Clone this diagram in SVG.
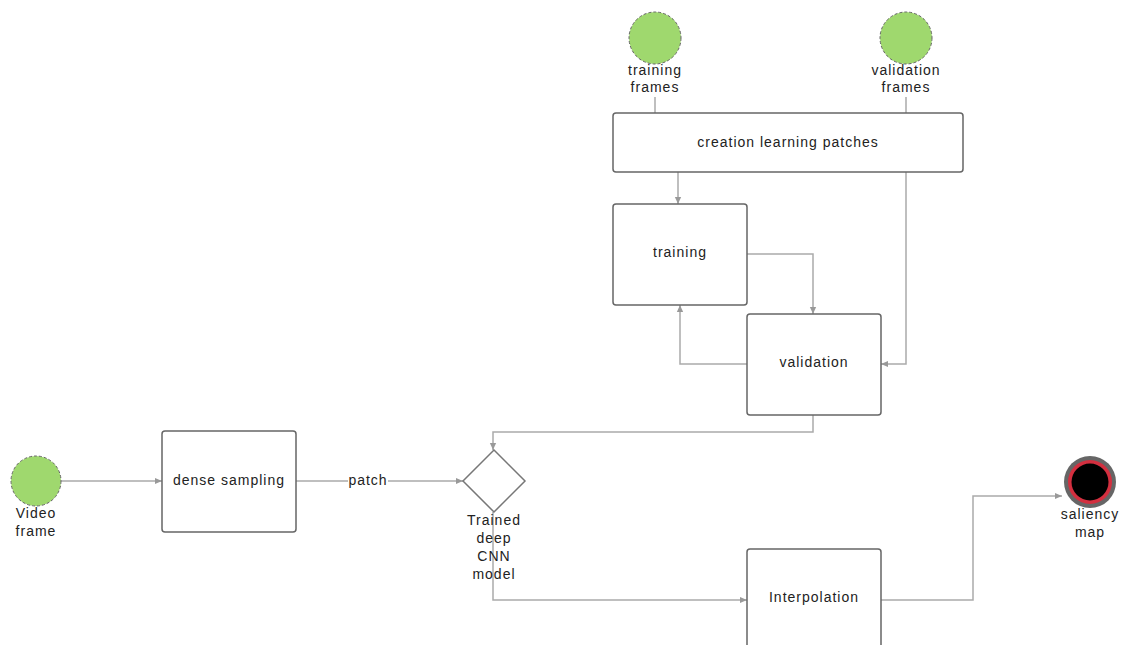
<svg xmlns="http://www.w3.org/2000/svg" width="1121" height="645" viewBox="0 0 1121 645">
<defs>
<marker id="arr" viewBox="0 0 10 10" refX="9" refY="5" markerWidth="8" markerHeight="8" markerUnits="userSpaceOnUse" orient="auto">
<path d="M0,1 L9,5 L0,9 z" fill="#999"/>
</marker>
<style>
.t{font-family:"Liberation Sans",Arial,sans-serif;font-size:14px;letter-spacing:1px;fill:#222;text-anchor:middle}
.box{fill:#fff;stroke:#666;stroke-width:1.5}
.start{fill:#9fd86e;stroke:#666;stroke-width:1;stroke-dasharray:3 2}
.c{fill:none;stroke:#aaa;stroke-width:1.5}
</style>
</defs>
<rect width="1121" height="645" fill="#fff"/>
<g id="connectors">
<path class="c" d="M655,97 V113"/>
<path class="c" d="M906,97 V113"/>
<path class="c" d="M678,172 V204" marker-end="url(#arr)"/>
<path class="c" d="M747,254 H813 V314" marker-end="url(#arr)"/>
<path class="c" d="M747,364 H680 V305" marker-end="url(#arr)"/>
<path class="c" d="M906,172 V364 H881" marker-end="url(#arr)"/>
<path class="c" d="M813,415 V432 H493 V450" marker-end="url(#arr)"/>
<path class="c" d="M61,481 H162" marker-end="url(#arr)"/>
<path class="c" d="M296,481 H463" marker-end="url(#arr)"/>
<rect x="348" y="472" width="40" height="16" fill="#fff"/>
<text class="t" x="368" y="485">patch</text>
<path class="c" d="M493,512 V600 H747" marker-end="url(#arr)"/>
<path class="c" d="M881,600 H973 V496 H1062" marker-end="url(#arr)"/>
</g>
<g id="training-frames">
<circle class="start" cx="655" cy="38" r="26"/>
<text class="t" x="655" y="75">training</text>
<text class="t" x="655" y="92">frames</text>
</g>
<g id="validation-frames">
<circle class="start" cx="906" cy="38" r="26"/>
<text class="t" x="906" y="75">validation</text>
<text class="t" x="906" y="92">frames</text>
</g>
<g id="creation">
<rect class="box" x="613" y="113" width="350" height="59" rx="3"/>
<text class="t" x="788" y="147">creation learning patches</text>
</g>
<g id="training">
<rect class="box" x="613" y="204" width="134" height="101" rx="3"/>
<text class="t" x="680" y="257">training</text>
</g>
<g id="validation">
<rect class="box" x="747" y="314" width="134" height="101" rx="3"/>
<text class="t" x="814" y="367">validation</text>
</g>
<g id="video-frame">
<circle class="start" cx="36" cy="481" r="25"/>
<text class="t" x="36" y="518">Video</text>
<text class="t" x="36" y="536">frame</text>
</g>
<g id="dense-sampling">
<rect class="box" x="162" y="431" width="134" height="101" rx="3"/>
<text class="t" x="229" y="485">dense sampling</text>
</g>
<g id="cnn-model">
<path d="M494,450 L525,481 L494,512 L463,481 Z" fill="#fff" stroke="#777" stroke-width="1.5"/>
<text class="t" x="494" y="525">Trained</text>
<text class="t" x="494" y="543">deep</text>
<text class="t" x="494" y="561">CNN</text>
<text class="t" x="494" y="579">model</text>
</g>
<g id="interpolation">
<rect class="box" x="747" y="549" width="134" height="110" rx="3"/>
<text class="t" x="814" y="602">Interpolation</text>
</g>
<g id="saliency-map">
<circle cx="1090" cy="482" r="26" fill="#666"/>
<circle cx="1090" cy="482" r="22" fill="#d32f3f"/>
<circle cx="1090" cy="482" r="18.5" fill="#000"/>
<text class="t" x="1090" y="519">saliency</text>
<text class="t" x="1090" y="537">map</text>
</g>
</svg>
